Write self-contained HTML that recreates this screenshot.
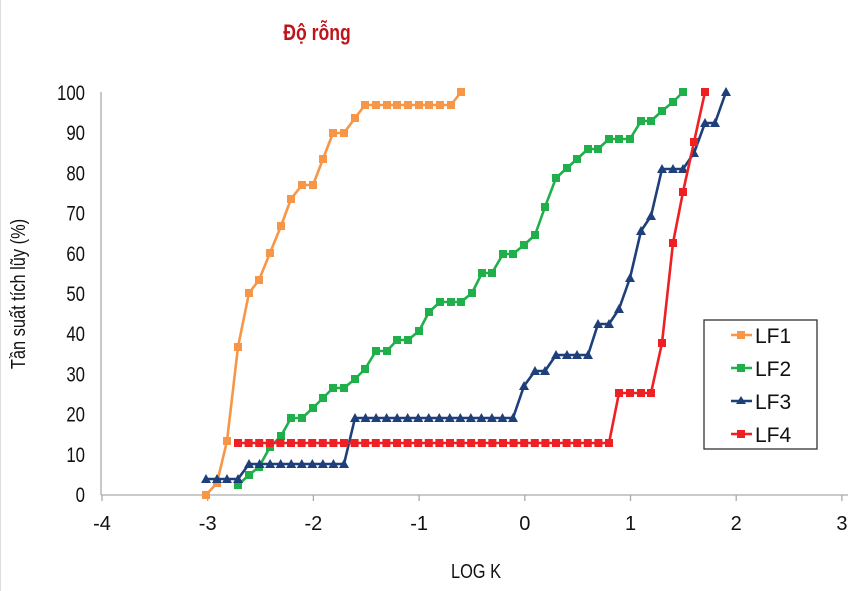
<!DOCTYPE html>
<html><head><meta charset="utf-8"><style>
html,body{margin:0;padding:0;background:#fff;width:854px;height:591px;overflow:hidden}
svg text{font-family:"Liberation Sans",sans-serif}
</style></head><body>
<svg id="s" width="854" height="591" xmlns="http://www.w3.org/2000/svg">
<rect width="854" height="591" fill="#fff"/>
<line x1="0.5" y1="0" x2="0.5" y2="591" stroke="#ddd"/>
<text x="317" y="40" font-size="22" font-weight="bold" fill="#c0141c" text-anchor="middle" transform="translate(317,0) scale(0.8,1) translate(-317,0)">Độ rỗng</text>
<g stroke="#aaa" stroke-width="1.3">
<line x1="101" y1="92" x2="101" y2="495"/>
<line x1="101" y1="495" x2="848" y2="495"/>
</g>
<g id="ticks"></g>
<g id="ylab" font-size="21" fill="#111" text-anchor="end"></g>
<g id="xlab" font-size="20" fill="#111" text-anchor="middle"></g>
<text x="476" y="578" font-size="20" fill="#111" text-anchor="middle" transform="translate(476,0) scale(0.82,1) translate(-476,0)">LOG K</text>
<text transform="translate(25,294) rotate(-90) scale(0.82,1)" font-size="20" fill="#111" text-anchor="middle">Tần suất tích lũy (%)</text>
<g id="series"></g>
<rect x="704" y="320" width="113" height="129" fill="#fff" stroke="#333" stroke-width="1.3"/>
<g id="leg" font-size="21" fill="#111"></g>
</svg>
<script>
const NS="http://www.w3.org/2000/svg";
function el(p,t,a,txt){const e=document.createElementNS(NS,t);for(const k in a)e.setAttribute(k,a[k]);if(txt!=null)e.textContent=txt;document.getElementById(p).appendChild(e);return e;}
for(let i=0;i<=10;i++){const y=495-i*40.2;el('ylab','text',{x:85,y:y+7,transform:`translate(85,0) scale(0.8,1) translate(-85,0)`},String(i*10));}
for(let i=-4;i<=3;i++){const x=102+(i+4)*105.7;el('ticks','line',{x1:x,y1:495,x2:x,y2:501,stroke:'#aaa','stroke-width':1.3});el('xlab','text',{x:x,y:530},String(i));}
function rng(a,b,n){const r=[];for(let i=0;i<n;i++)r.push(a+(b-a)*i/(n-1));return r;}
const O=[[206,495],[217,483],[227,441],[238,347],[249,293],[259,280],[270,253],[281,226],[291,199],[302,185],[313,185],[323,159],[333,133],[344,133],[355,118],[365,105]];
[376,387,397,408,419,429,440,451].forEach(x=>O.push([x,105]));O.push([461,92]);
const G=[[238,485],[249,475],[259,467],[270,447],[281,436],[291,418],[302,418],[313,408],[323,398],[333,388],[344,388],[355,379],[365,369],[376,351],[387,351],[397,340],[408,340],[419,331],[429,312],[440,302],[451,302],[461,302],[472,293],[482,273],[492,273],[503,254],[513,254],[524,245],[535,235],[545,207],[556,178],[567,168],[577,159],[588,149],[598,149],[609,139],[619,139],[630,139],[641,121],[651,121],[662,111],[673,102],[683,92]];
const B=[[206,479],[217,479],[227,479],[238,479]];
rng(249,344,10).forEach(x=>B.push([x,464]));
rng(355,513,16).forEach(x=>B.push([x,418]));
B.push([524,386],[535,371],[545,371],[556,355],[567,355],[577,355],[588,355],[598,324],[609,324],[619,309],[630,278],[641,231],[651,216],[662,169],[673,169],[683,169],[694,153],[705,123],[715,123],[726,92]);
const R=[];rng(238,609,36).forEach(x=>R.push([x,443]));
R.push([619,393],[630,393],[641,393],[651,393],[662,343],[673,243],[683,192],[694,142],[705,92]);
function draw(pts,c,tri){el('series','polyline',{points:pts.map(p=>p.join(',')).join(' '),fill:'none',stroke:c,'stroke-width':2.6,'stroke-linejoin':'round'});
pts.forEach(([x,y])=>{if(tri)el('series','polygon',{points:`${x},${y-5} ${x-5},${y+4} ${x+5},${y+4}`,fill:c});else el('series','rect',{x:x-4,y:y-4,width:8,height:8,fill:c});});}
draw(O,'#f79646');draw(G,'#20b04b');draw(B,'#1f3f7a',true);draw(R,'#ee2024');
const L=[['LF1','#f79646'],['LF2','#20b04b'],['LF3','#1f3f7a',1],['LF4','#ee2024']];
L.forEach((l,i)=>{const y=335+i*33;el('leg','line',{x1:731,y1:y,x2:752,y2:y,stroke:l[1],'stroke-width':2.6});
if(l[2])el('leg','polygon',{points:`741,${y-5} 736,${y+3} 746,${y+3}`,fill:l[1]});else el('leg','rect',{x:737,y:y-4,width:8,height:8,fill:l[1]});
el('leg','text',{x:755,y:y+8},l[0]);});
</script>
</body></html>
